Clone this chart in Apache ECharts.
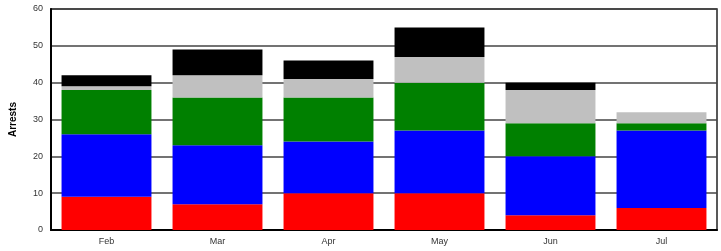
<!DOCTYPE html>
<html>
<head>
<meta charset="utf-8">
<script src="https://cdn.jsdelivr.net/npm/echarts@6/dist/echarts.min.js"></script>
<style>
  html, body { margin: 0; padding: 0; background: #fff; }
  #container { width: 721px; height: 251px; }
</style>
</head>
<body>
<div id="container"></div>
<script>
var months = ['Feb', 'Mar', 'Apr', 'May', 'Jun', 'Jul'];
var redVals = [9, 7, 10, 10, 4, 6];
var blueVals = [17, 16, 14, 17, 16, 21];
var greenVals = [12, 13, 12, 13, 9, 2];
var grayVals = [1, 6, 5, 7, 9, 3];
var blackVals = [3, 7, 5, 8, 2, 0];
var yTicks = [0, 10, 20, 30, 40, 50, 60];

var dom = document.getElementById("container");
var myChart = echarts.init(dom);

function stackSeries(name, data, color) {
    return {
        name: name,
        type: 'bar',
        stack: 'total',
        data: data,
        barCategoryGap: '19%',
        itemStyle: { color: color },
        silent: true
    };
}

var option = {
    animation: false,
    textStyle: { fontFamily: 'Liberation Sans, Arial, sans-serif' },
    grid: {
        left: 50, right: 4, top: 9, bottom: 21,
        show: true,
        borderColor: '#222',
        borderWidth: 1.5
    },
    xAxis: {
        type: 'category',
        data: months,
        axisLine: { show: true, lineStyle: { color: '#000', width: 2 } },
        axisTick: { show: false },
        axisLabel: { color: '#333', fontSize: 9, margin: 7 }
    },
    yAxis: {
        type: 'value',
        min: yTicks[0],
        max: yTicks[yTicks.length - 1],
        interval: 10,
        name: 'Arrests',
        nameLocation: 'middle',
        nameGap: 33,
        nameTextStyle: { color: '#000', fontSize: 10, fontWeight: 'bold' },
        axisLine: { show: true, lineStyle: { color: '#000', width: 2 } },
        axisTick: { show: false },
        axisLabel: { color: '#333', fontSize: 9, margin: 8 },
        splitLine: { show: true, lineStyle: { color: '#444', width: 1.5 } }
    },
    series: [
        stackSeries('red', redVals, '#ff0000'),
        stackSeries('blue', blueVals, '#0000ff'),
        stackSeries('green', greenVals, '#008000'),
        stackSeries('gray', grayVals, '#c0c0c0'),
        stackSeries('black', blackVals, '#000000')
    ]
};
myChart.setOption(option);
</script>
</body>
</html>
